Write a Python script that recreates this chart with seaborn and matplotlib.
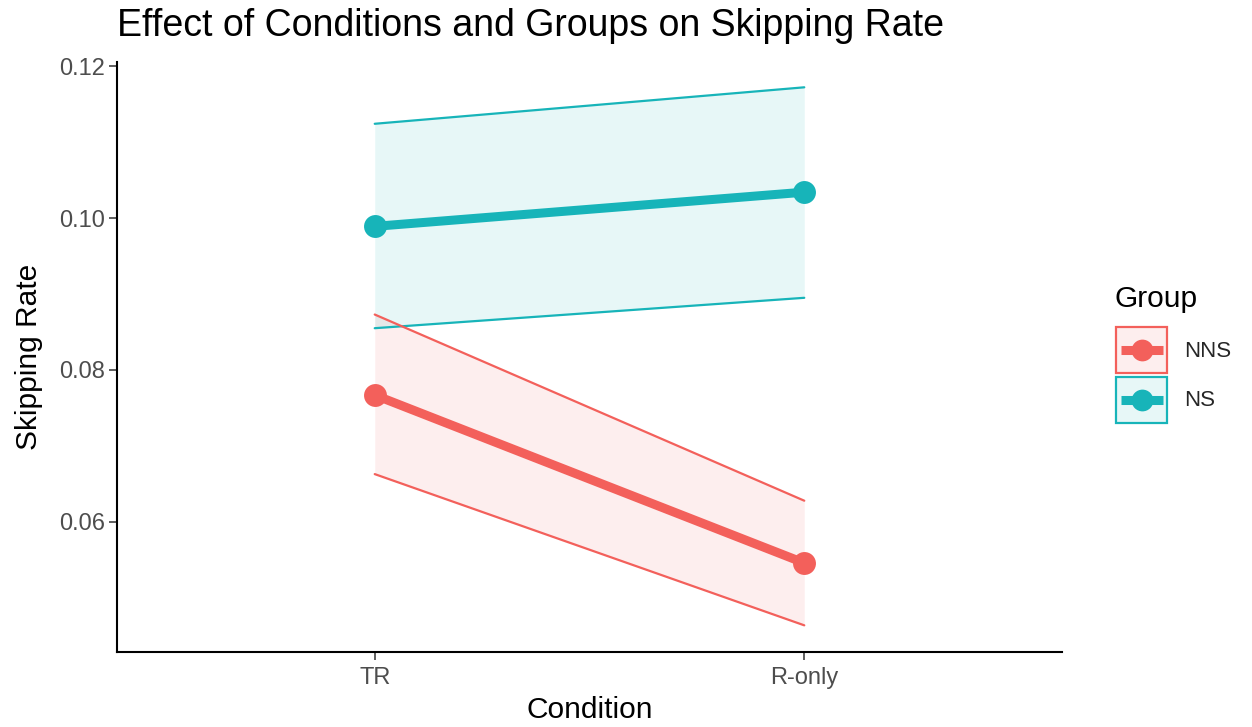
import numpy as np
import pandas as pd
import matplotlib
matplotlib.use("Agg")
import matplotlib.pyplot as plt
from matplotlib.patches import Patch, Rectangle
from matplotlib.lines import Line2D
from matplotlib.legend_handler import HandlerBase
from matplotlib.colors import to_rgba
import seaborn as sns

# Data: mean skipping rate with confidence band per condition and group
conditions = ["TR", "R-only"]
groups = ["NNS", "NS"]
nns_rate = [0.0767, 0.0546]
nns_lower = [0.0663, 0.0464]
nns_upper = [0.0873, 0.0628]
ns_rate = [0.0989, 0.1034]
ns_lower = [0.0855, 0.0895]
ns_upper = [0.1124, 0.1172]
y_ticks = [0.06, 0.08, 0.10, 0.12]

palette = {"NNS": "#F3605B", "NS": "#17B4B9"}
FILL_ALPHA = 0.1
MEAN_LW = 6.5
BAND_LW = 1.6
POINT_SIZE = 16.5

df = pd.DataFrame({
    "Condition": conditions * 2,
    "Group": ["NNS"] * 2 + ["NS"] * 2,
    "rate": nns_rate + ns_rate,
    "lower": nns_lower + ns_lower,
    "upper": nns_upper + ns_upper,
})

sns.set_theme(style="ticks")
plt.rcParams["font.family"] = ["Liberation Sans", "DejaVu Sans"]

fig = plt.figure(figsize=(12.52, 7.27), dpi=100)
ax = fig.add_axes([117 / 1252, 1 - 652 / 727, (1062 - 117) / 1252, (652 - 62) / 727])

# Confidence ribbons
for g in groups:
    sub = df[df["Group"] == g]
    ax.fill_between(sub["Condition"], sub["lower"], sub["upper"],
                    color=palette[g], alpha=FILL_ALPHA, linewidth=0, zorder=1)

# Ribbon borders
for col in ["lower", "upper"]:
    sns.lineplot(data=df, x="Condition", y=col, hue="Group", palette=palette,
                 hue_order=groups, sort=False, linewidth=BAND_LW, legend=False,
                 ax=ax, zorder=2)

# Mean lines with points
sns.lineplot(data=df, x="Condition", y="rate", hue="Group", palette=palette,
             hue_order=groups, sort=False, linewidth=MEAN_LW, marker="o",
             markersize=POINT_SIZE, markeredgewidth=0, legend=False, ax=ax,
             zorder=3)

ax.set_xlim(-0.6, 1.6)
ax.set_ylim(0.04289, 0.12053)
ax.set_yticks(y_ticks)
ax.set_yticklabels([f"{v:.2f}" for v in y_ticks])

for side in ["top", "right"]:
    ax.spines[side].set_visible(False)
for side in ["left", "bottom"]:
    ax.spines[side].set_linewidth(1.5)
    ax.spines[side].set_color("black")
ax.tick_params(axis="both", length=5.5, width=1.1, color="#333333",
               labelcolor="#4D4D4D", labelsize=17)
ax.tick_params(axis="x", pad=5)
ax.tick_params(axis="y", pad=3)

ax.set_xlabel("Condition", fontsize=21.5, color="black", labelpad=5)
ax.set_ylabel("Skipping Rate", fontsize=21.5, color="black", labelpad=12)
ax.set_title("Effect of Conditions and Groups on Skipping Rate",
             loc="left", fontsize=27, color="black", pad=19)


class RibbonKey(HandlerBase):
    """Legend key: tinted box with border, a thick line and a point."""

    def __init__(self, color):
        super().__init__()
        self.color = color

    def create_artists(self, legend, orig_handle, xdescent, ydescent,
                       width, height, fontsize, trans):
        x0, y0 = -xdescent, -ydescent
        yc = y0 + height / 2
        box = Rectangle((x0 + 1, y0 + 1), width - 2, height - 2,
                        facecolor=to_rgba(self.color, FILL_ALPHA),
                        edgecolor=self.color, linewidth=BAND_LW,
                        transform=trans)
        seg = Line2D([x0 + 4, x0 + width - 4], [yc, yc], color=self.color,
                     linewidth=MEAN_LW, solid_capstyle="butt", transform=trans)
        dot = Line2D([x0 + width / 2], [yc], color=self.color, marker="o",
                     markersize=POINT_SIZE * 0.95, markeredgewidth=0,
                     linestyle="none", transform=trans)
        return [box, seg, dot]


handles = [Patch(color=palette[g]) for g in groups]
handler_map = {h: RibbonKey(palette[g]) for h, g in zip(handles, groups)}

fig.legend(handles, groups, loc="upper left",
           bbox_to_anchor=(1115 / 1252, 1 - 326 / 727),
           handler_map=handler_map, frameon=False, fontsize=16,
           handlelength=2.4, handleheight=3.0, labelspacing=0.03,
           handletextpad=0.72, borderpad=0, borderaxespad=0)
fig.text(1115 / 1252, 1 - 307 / 727, "Group", fontsize=21.5,
         color="black", ha="left", va="baseline")

fig.savefig("out.png", dpi=100)
